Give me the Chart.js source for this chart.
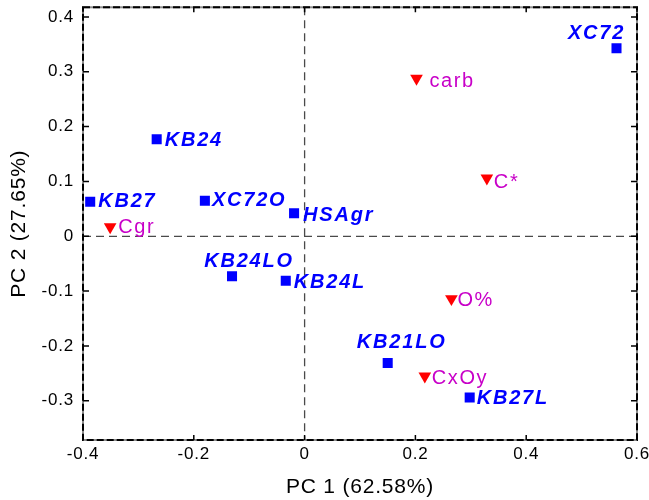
<!DOCTYPE html>
<html>
<head>
<meta charset="utf-8">
<script src="https://cdn.jsdelivr.net/npm/chart.js"></script>
<style>
  html, body { margin: 0; padding: 0; background: #fff; }
  canvas { display: block; }
</style>
</head>
<body>
<canvas id="c" width="649" height="500"></canvas>
<script>
// ---- data ----
const sampleNames = ['XC72', 'KB24', 'KB27', 'XC72O', 'HSAgr', 'KB24LO', 'KB24L', 'KB21LO', 'KB27L'];
const samplePC1 = [0.563, -0.267, -0.387, -0.180, -0.019, -0.131, -0.034, 0.150, 0.298];
const samplePC2 = [0.343, 0.177, 0.063, 0.065, 0.042, -0.073, -0.081, -0.231, -0.294];

const varNames = ['carb', 'C*', 'Cgr', 'O%', 'CxOy'];
const varPC1 = [0.202, 0.329, -0.351, 0.265, 0.217];
const varPC2 = [0.288, 0.106, 0.017, -0.114, -0.255];

const xTickValues = [-0.4, -0.2, 0, 0.2, 0.4, 0.6];
const yTickValues = [-0.3, -0.2, -0.1, 0, 0.1, 0.2, 0.3, 0.4];

const xTitle = 'PC 1 (62.58%)';
const yTitle = 'PC 2 (27.65%)';

// ---- label placement (pixels relative to marker) ----
const sampleLabelPlace = [
  { dx: -20, dy: -15, align: 'center' },
  { dx: 8, dy: 1, align: 'left' },
  { dx: 8, dy: 0, align: 'left' },
  { dx: 7, dy: 0, align: 'left' },
  { dx: 9, dy: 2, align: 'left' },
  { dx: 17, dy: -15, align: 'center' },
  { dx: 8, dy: 2, align: 'left' },
  { dx: 14, dy: -20, align: 'center' },
  { dx: 7, dy: 1, align: 'left' }
];
const varLabelPlace = [
  { dx: 13, dy: 3 },
  { dx: 7, dy: 4 },
  { dx: 8, dy: 1 },
  { dx: 6, dy: 2 },
  { dx: 7, dy: 2 }
];

const FONT = '"Liberation Sans", Arial, sans-serif';

const decorPlugin = {
  id: 'decor',
  beforeInit(chart) { chart.ctx.letterSpacing = '0.8px'; },
  beforeUpdate(chart) { chart.ctx.letterSpacing = '0.8px'; },
  beforeDraw(chart) { chart.ctx.letterSpacing = '0.8px'; },
  beforeDatasetsDraw(chart) {
    const { ctx, chartArea: a, scales: { x, y } } = chart;
    const x0 = x.getPixelForValue(0), y0 = y.getPixelForValue(0);
    ctx.save();
    ctx.strokeStyle = '#4a4a4a';
    ctx.lineWidth = 1.3;
    ctx.setLineDash([8, 5]);
    ctx.beginPath();
    ctx.moveTo(x0, a.top); ctx.lineTo(x0, a.bottom);
    ctx.moveTo(a.left, y0); ctx.lineTo(a.right, y0);
    ctx.stroke();
    ctx.restore();
  },
  afterDatasetsDraw(chart) {
    const { ctx, chartArea: a, scales: { x, y } } = chart;
    ctx.save();
    // frame: grey base with black dashes
    ctx.lineWidth = 2;
    ctx.strokeStyle = '#8c8c8c';
    ctx.setLineDash([]);
    ctx.strokeRect(a.left, a.top, a.right - a.left, a.bottom - a.top);
    ctx.strokeStyle = '#000';
    ctx.setLineDash([7, 3]);
    ctx.strokeRect(a.left, a.top, a.right - a.left, a.bottom - a.top);
    ctx.setLineDash([]);
    // inward ticks
    ctx.lineWidth = 1.5;
    ctx.beginPath();
    xTickValues.forEach(v => {
      const px = x.getPixelForValue(v);
      ctx.moveTo(px, a.bottom); ctx.lineTo(px, a.bottom - 5);
      ctx.moveTo(px, a.top); ctx.lineTo(px, a.top + 5);
    });
    yTickValues.forEach(v => {
      const py = y.getPixelForValue(v);
      ctx.moveTo(a.left, py); ctx.lineTo(a.left + 6, py);
      ctx.moveTo(a.right, py); ctx.lineTo(a.right - 6, py);
    });
    ctx.stroke();

    // sample labels
    ctx.textBaseline = 'middle';
    ctx.font = 'bold italic 20px ' + FONT;
    ctx.letterSpacing = '1.8px';
    ctx.fillStyle = '#0000ff';
    sampleNames.forEach((n, i) => {
      const p = sampleLabelPlace[i];
      const px = x.getPixelForValue(samplePC1[i]);
      const py = y.getPixelForValue(samplePC2[i]);
      ctx.textAlign = p.align;
      ctx.fillText(n, px + p.dx, py + p.dy);
    });
    // variable labels
    ctx.font = '20px ' + FONT;
    ctx.letterSpacing = '1.6px';
    ctx.fillStyle = '#c800c8';
    ctx.textAlign = 'left';
    varNames.forEach((n, i) => {
      const p = varLabelPlace[i];
      const px = x.getPixelForValue(varPC1[i]);
      const py = y.getPixelForValue(varPC2[i]);
      ctx.fillText(n, px + p.dx, py + p.dy);
    });
    ctx.restore();
  }
};

const fmt = v => String(Math.round(v * 10) / 10);

new Chart(document.getElementById('c'), {
  type: 'scatter',
  data: {
    datasets: [
      {
        label: 'samples',
        data: samplePC1.map((v, i) => ({ x: v, y: samplePC2[i] })),
        pointStyle: 'rect',
        pointRadius: 7.1,
        pointHoverRadius: 7.1,
        backgroundColor: '#0000ff',
        borderColor: '#0000ff',
        borderWidth: 0
      },
      {
        label: 'variables',
        data: varPC1.map((v, i) => ({ x: v, y: varPC2[i] })),
        pointStyle: 'triangle',
        rotation: 180,
        pointRadius: 7.3,
        pointHoverRadius: 7.3,
        backgroundColor: '#ff0000',
        borderColor: '#ff0000',
        borderWidth: 0
      }
    ]
  },
  options: {
    responsive: false,
    animation: false,
    layout: { padding: { top: 6, right: 12, left: 0, bottom: 0 } },
    plugins: { legend: { display: false }, tooltip: { enabled: false } },
    scales: {
      x: {
        type: 'linear',
        min: -0.4,
        max: 0.6,
        grid: { display: false, drawTicks: false },
        border: { display: false },
        afterBuildTicks: s => { s.ticks = xTickValues.map(v => ({ value: v })); },
        afterFit: s => { s.height = 60; s.paddingLeft = 0; s.paddingRight = 0; },
        ticks: {
          color: '#000',
          font: { family: FONT, size: 17 },
          padding: 4,
          maxRotation: 0,
          autoSkip: false,
          callback: v => fmt(v)
        },
        title: {
          display: true,
          text: xTitle,
          color: '#000',
          font: { family: FONT, size: 21 },
          padding: { top: 0, bottom: 0 }
        }
      },
      y: {
        type: 'linear',
        min: -0.3715,
        max: 0.4176,
        grid: { display: false, drawTicks: false },
        border: { display: false },
        afterBuildTicks: s => { s.ticks = yTickValues.map(v => ({ value: v })); },
        afterFit: s => { s.width = 83; s.paddingTop = 0; s.paddingBottom = 0; },
        ticks: {
          color: '#000',
          font: { family: FONT, size: 17 },
          padding: 9,
          autoSkip: false,
          callback: v => fmt(v)
        },
        title: {
          display: true,
          text: yTitle,
          color: '#000',
          font: { family: FONT, size: 21 },
          padding: { top: 7, bottom: 0 }
        }
      }
    }
  },
  plugins: [decorPlugin]
});
</script>
</body>
</html>
